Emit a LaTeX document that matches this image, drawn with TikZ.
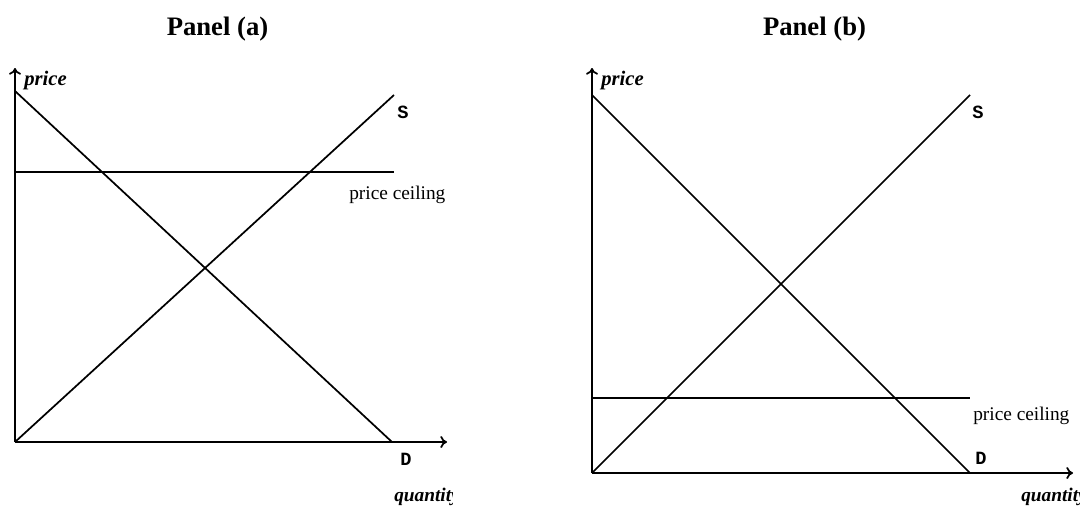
\documentclass[tikz,border=0pt]{standalone}
\usepackage{fontspec}
\usetikzlibrary{arrows.meta}
\setmainfont{Liberation Serif}
\newfontfamily\monofnt{Liberation Mono}
\begin{document}
\begin{tikzpicture}[x=0.75pt,y=-0.75pt,
  axis/.style={line width=1.3pt,-{To[length=5pt,width=9pt]}},
  curve/.style={line width=1.3pt},
  ttl/.style={font=\bfseries\fontsize{20}{24}\selectfont,anchor=base,inner sep=0},
  axlab/.style={font=\bfseries\itshape\fontsize{15.5}{17}\selectfont,anchor=west,inner sep=0},
  qlab/.style={font=\bfseries\itshape\fontsize{14.5}{17}\selectfont,anchor=west,inner sep=0},
  lbl/.style={font=\fontsize{14.5}{16}\selectfont,anchor=west,inner sep=0},
  sd/.style={font=\monofnt\bfseries\fontsize{14}{16}\selectfont,inner sep=0}]
\useasboundingbox (0,0) rectangle (1081,508);
% titles
\node[ttl] (ta) at (217.5,35) {Panel (a)};
\node[ttl] (tb) at (814.5,35) {Panel (b)};
% ---------- Panel (a)
\coordinate (oa) at (15,442);
\coordinate (ya) at (15,68);
\coordinate (xa) at (447,442);
\coordinate (da1) at (15,91);
\coordinate (da2) at (392,442);
\coordinate (sa2) at (394,95);
\coordinate (ca1) at (15,172);
\coordinate (ca2) at (394,172);
\draw[axis] (oa) -- (ya);
\draw[axis] (oa) -- (xa);
\draw[curve] (da1) -- (da2);
\draw[curve] (oa) -- (sa2);
\draw[curve] (ca1) -- (ca2);
\node[axlab] (pa) at (24,81) {price};
\node[sd] (Sa) at (403,112) {S};
\node[sd] (Da) at (406,459) {D};
\node[lbl] (pca) at (349,195) {price ceiling};
\begin{scope}
\clip (380,480) rectangle (452,508);
\node[qlab] (qa) at (394,497) {quantity};
\end{scope}
% ---------- Panel (b)
\coordinate (ob) at (592,473);
\coordinate (yb) at (592,68);
\coordinate (xb) at (1073,473);
\coordinate (db1) at (592,95);
\coordinate (db2) at (970,473);
\coordinate (sb2) at (970,95);
\coordinate (cb1) at (592,398);
\coordinate (cb2) at (970,398);
\draw[axis] (ob) -- (yb);
\draw[axis] (ob) -- (xb);
\draw[curve] (db1) -- (db2);
\draw[curve] (ob) -- (sb2);
\draw[curve] (cb1) -- (cb2);
\node[axlab] (pb) at (601,81) {price};
\node[sd] (Sb) at (978,112) {S};
\node[sd] (Db) at (981,458) {D};
\node[lbl] (pcb) at (973,416) {price ceiling};
\begin{scope}
\clip (1000,480) rectangle (1079,508);
\node[qlab] (qb) at (1021,497) {quantity};
\end{scope}
\end{tikzpicture}
\end{document}
